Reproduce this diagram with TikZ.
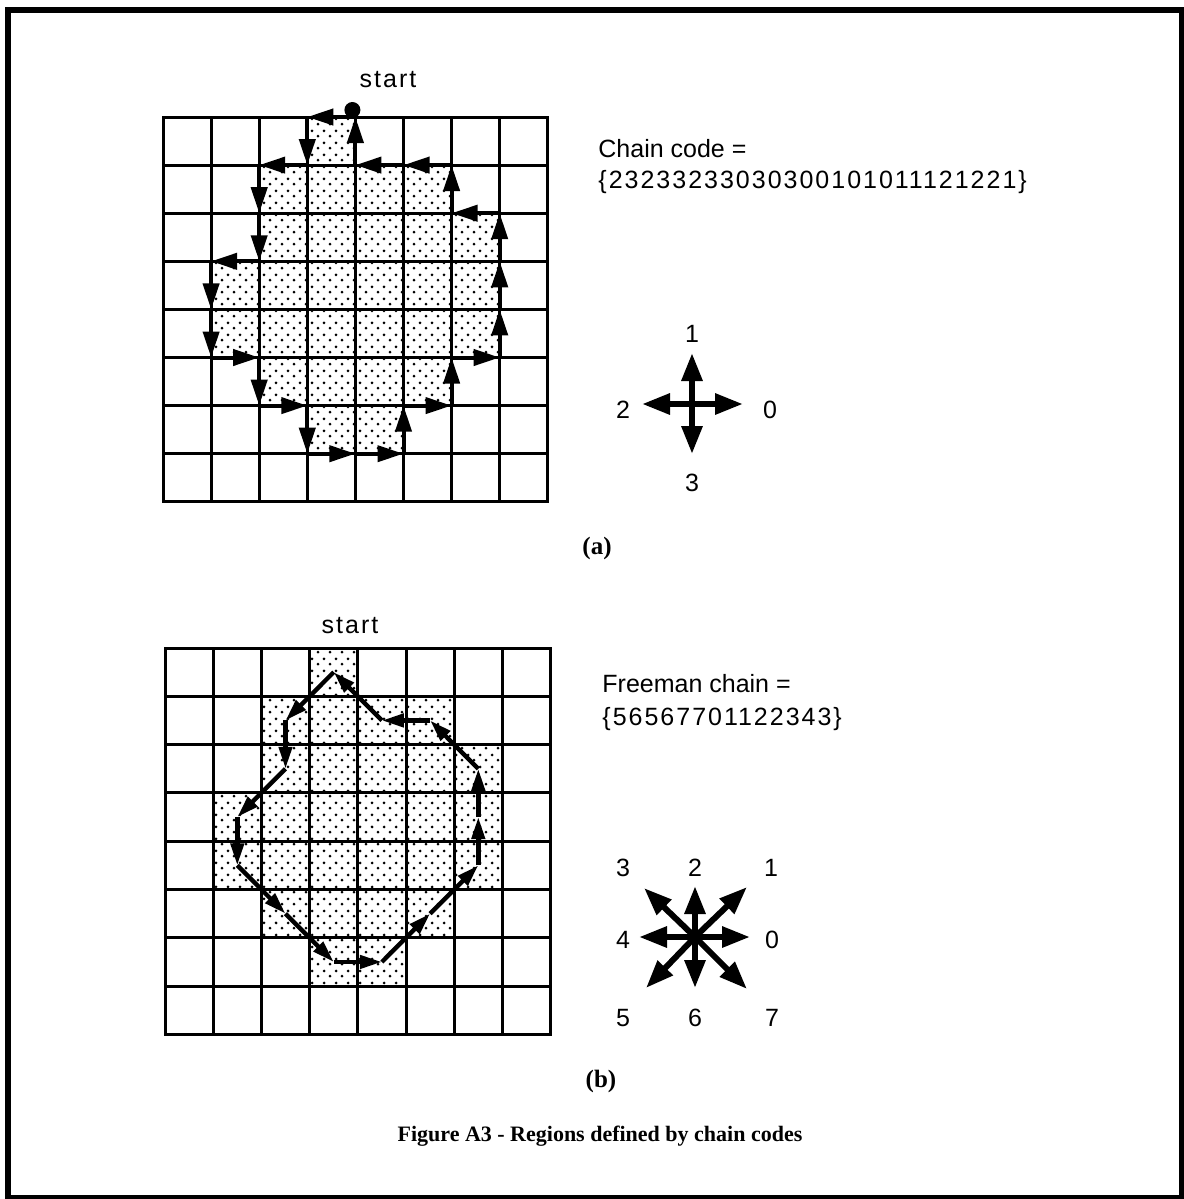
\documentclass[tikz,border=0pt]{standalone}
\usepackage{fontspec}
\setmainfont{Liberation Serif}
\newfontfamily\lblfont{Liberation Sans}
\newfontfamily\codefont[LetterSpace=8]{Liberation Sans}
\usetikzlibrary{arrows.meta,patterns}
% stippled fill of the region
\pgfdeclarepatternformonly{stipple}{\pgfqpoint{-1pt}{-1pt}}{\pgfqpoint{6pt}{6pt}}{\pgfqpoint{6pt}{6pt}}{%
  \pgfpathcircle{\pgfqpoint{0pt}{0pt}}{.75pt}%
  \pgfpathcircle{\pgfqpoint{3pt}{3.4pt}}{.75pt}%
  \pgfusepath{fill}}
% outline of the region, as grid corners (a) and as cell centres (b)
\newcommand\boundary{3/0,3/1,2/1,2/2,2/3,1/3,1/4,1/5,2/5,2/6,3/6,3/7,4/7,5/7,5/6,6/6,6/5,7/5,7/4,7/3,7/2,6/2,6/1,5/1,4/1,4/0}
\newcommand\freeman{2/1,2/2,1/3,1/4,2/5,3/6,4/6,5/5,6/4,6/3,6/2,5/1,4/1,3/0}
\tikzset{
  txt/.style={font=\lblfont\fontsize{12.5}{15}\selectfont,inner sep=0pt},
  code/.style={font=\codefont\fontsize{12.5}{15}\selectfont,inner sep=0pt},
  capt/.style={font=\bfseries\fontsize{11}{14}\selectfont,inner sep=0pt},
  subcapt/.style={capt,font=\bfseries\fontsize{12.5}{14}\selectfont},
  cellgrid/.style={line width=1.5pt,line cap=rect},
  region/.style={pattern=stipple},
  chainA/.style={-{Triangle[length=13pt,width=8pt]},line width=2pt},
  chainB/.style={-{Triangle[length=11pt,width=6.5pt]},line width=2.2pt},
  dirarrow/.style={-{Triangle[length=14pt,width=10pt]},line width=3pt},
}

\begin{document}
\begin{tikzpicture}[x=0.5pt,y=-0.5pt]
\useasboundingbox (0,0) rectangle (1183,1199);
\draw[line width=3pt] (8,10) rectangle (1181.5,1197.5);
% grid corners
\foreach \i in {0,...,8}
  \foreach \j in {0,...,8} {
    \coordinate (ga-\i-\j) at (163+48.1*\i,117+48.1*\j);
    \coordinate (gb-\i-\j) at (165+48.2*\i,648+48.3*\j);
  }
\foreach \i in {0,...,7}
  \foreach \j in {0,...,7}
    \coordinate (cb-\i-\j) at (189.1+48.2*\i,672.15+48.3*\j);

% (a) four-direction chain code
\fill[region] (ga-4-0) \foreach \i/\j in \boundary { -- (ga-\i-\j) } -- cycle;
\foreach \k in {0,...,8} {
  \draw[cellgrid] (ga-\k-0) -- (ga-\k-8);
  \draw[cellgrid] (ga-0-\k) -- (ga-8-\k);
}
\foreach \i/\j [remember=\i as \pi (initially 4),remember=\j as \pj (initially 0)] in \boundary
  \draw[chainA] (ga-\pi-\pj) -- (ga-\i-\j);
\node[circle,fill,inner sep=0pt,minimum size=8pt] (starta) at ([xshift=-1.5pt,yshift=3.5pt]ga-4-0) {};
\node[code,anchor=base] (startalbl) at (388,87) {start};
\node[txt,anchor=base west] (cchead) at (598,157) {Chain code =};
\node[code,anchor=base west] (ccval) at (598,188) {\{23233233030300101011121221\}};

\coordinate (ca) at (692,404);
\coordinate (ca0) at (743,404);
\coordinate (ca1) at (692,353);
\coordinate (ca2) at (642,404);
\coordinate (ca3) at (692,454);
\foreach \n in {0,...,3}
  \draw[dirarrow] (ca) -- (ca\n);
\node[txt] (la0) at (770,410) {0};
\node[txt] (la1) at (692,334) {1};
\node[txt] (la2) at (623,410) {2};
\node[txt] (la3) at (692,483) {3};
\node[subcapt] (suba) at (597,548) {(a)};

% (b) eight-direction Freeman chain
\fill[region] (gb-3-0) rectangle (gb-4-1) (gb-2-1) rectangle (gb-6-2)
  (gb-2-2) rectangle (gb-7-3) (gb-1-3) rectangle (gb-7-5)
  (gb-2-5) rectangle (gb-6-6) (gb-3-6) rectangle (gb-5-7);
\foreach \k in {0,...,8} {
  \draw[cellgrid] (gb-\k-0) -- (gb-\k-8);
  \draw[cellgrid] (gb-0-\k) -- (gb-8-\k);
}
\foreach \i/\j [remember=\i as \pi (initially 3),remember=\j as \pj (initially 0)] in \freeman
  \draw[chainB] (cb-\pi-\pj) -- (cb-\i-\j);
\node[code,anchor=base] (startblbl) at (350,633) {start};
\node[txt,anchor=base west] (fchead) at (602,692) {Freeman chain =};
\node[code,anchor=base west] (fcval) at (602,725) {\{56567701122343\}};

\coordinate (cf) at (695,937);
\coordinate (cf0) at (750,937);
\coordinate (cf1) at (747,887);
\coordinate (cf2) at (695,886);
\coordinate (cf3) at (644,888);
\coordinate (cf4) at (639,937);
\coordinate (cf5) at (646,988);
\coordinate (cf6) at (695,988);
\coordinate (cf7) at (747,989);
\foreach \n in {0,...,7}
  \draw[dirarrow] (cf) -- (cf\n);
\node[txt] (lf0) at (772,940) {0};
\node[txt] (lf1) at (771,868) {1};
\node[txt] (lf2) at (695,868) {2};
\node[txt] (lf3) at (623,868) {3};
\node[txt] (lf4) at (623,940) {4};
\node[txt] (lf5) at (623,1018) {5};
\node[txt] (lf6) at (695,1018) {6};
\node[txt] (lf7) at (772,1018) {7};
\node[subcapt] (subb) at (601,1081) {(b)};

\node[capt] (figcap) at (600,1136) {Figure A3 - Regions defined by chain codes};
\end{tikzpicture}
\end{document}
